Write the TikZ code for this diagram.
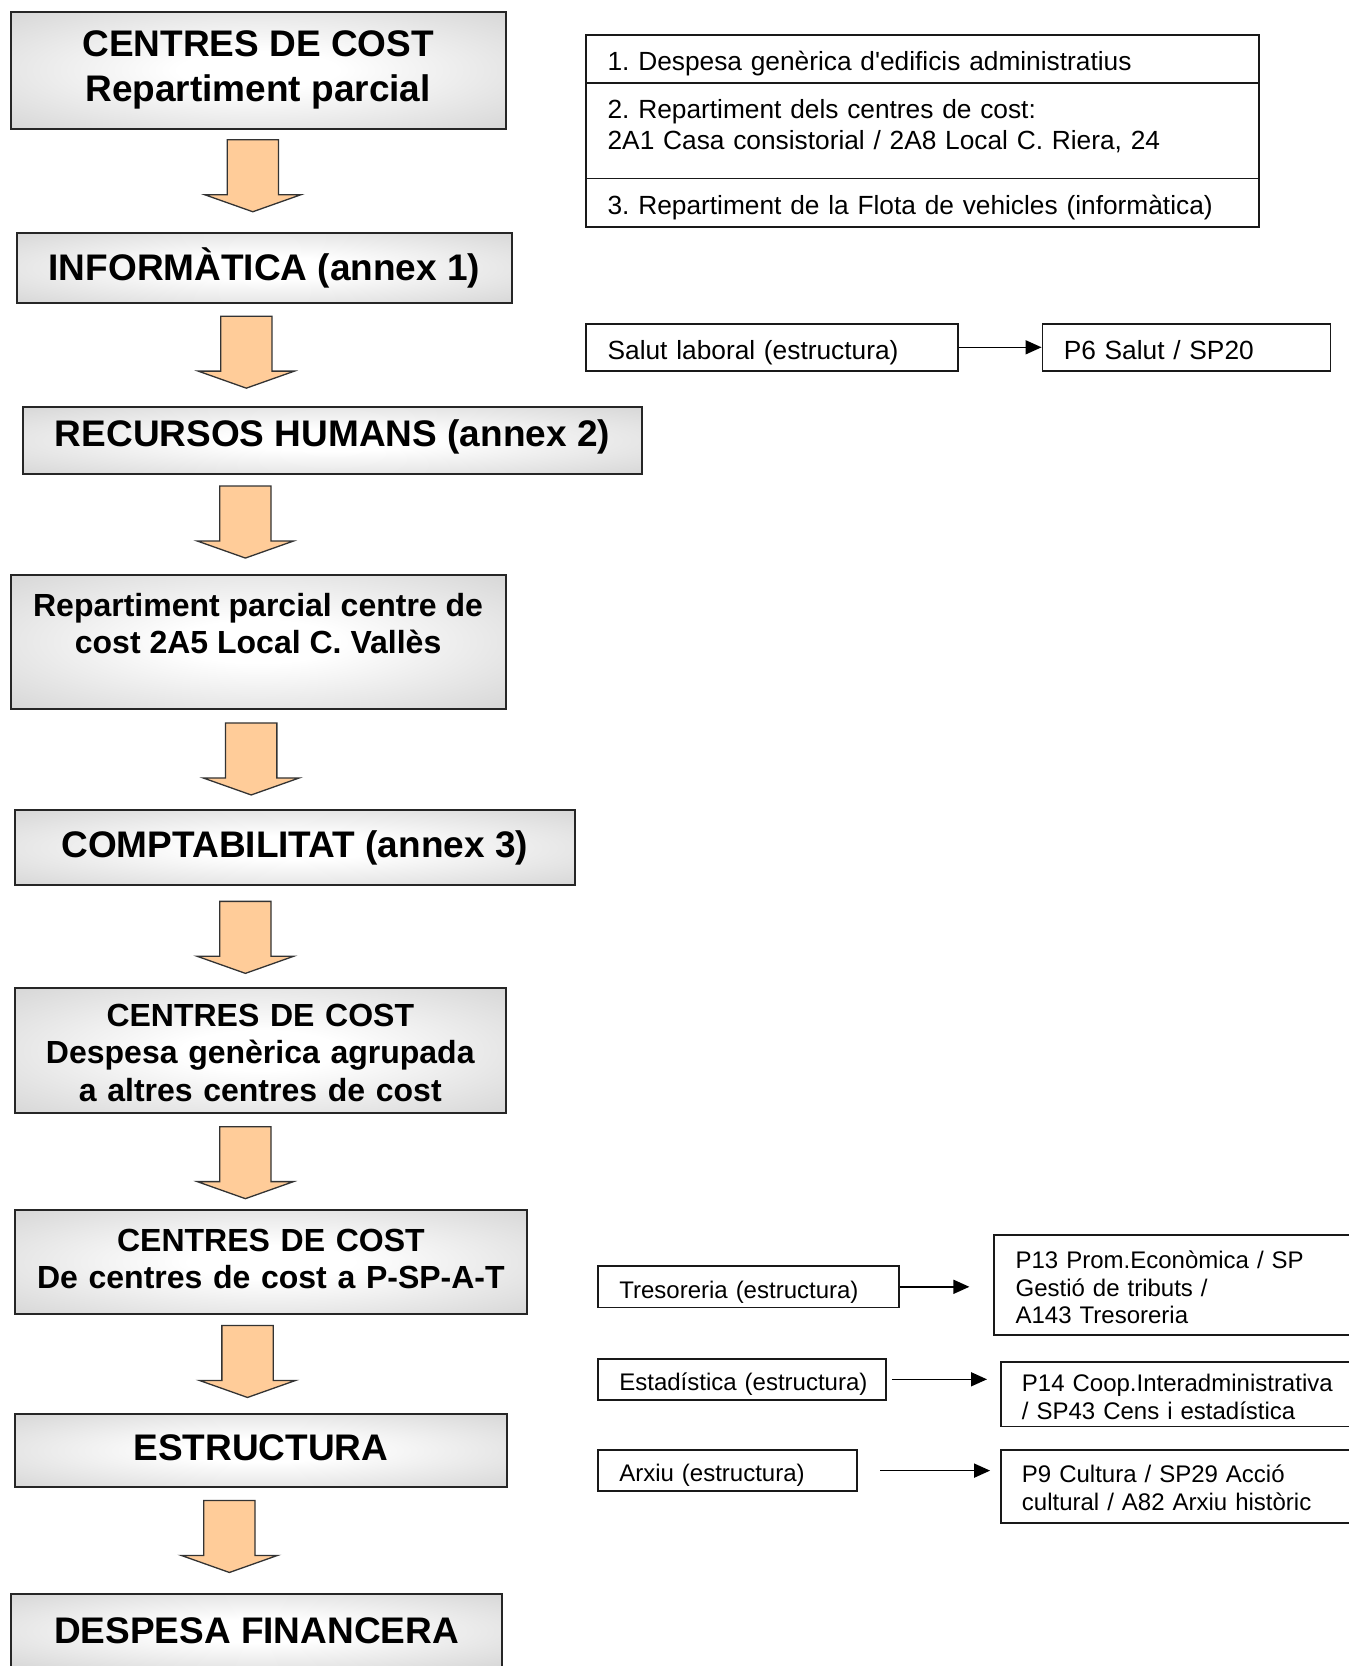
\documentclass[tikz,border=0pt]{standalone}
\usepackage{fontspec}
\setmainfont{Liberation Sans}
\usetikzlibrary{shapes.arrows,arrows.meta}
\definecolor{peach}{RGB}{255,204,153}
\pgfdeclareradialshading{greybox}{\pgfpoint{0bp}{0bp}}{color(0bp)=(white); color(8bp)=(white); color(50bp)=(black!24); color(72bp)=(black!30)}
\begin{document}
\frenchspacing
\begin{tikzpicture}[x=1pt,y=-1pt,
    bigbox/.style={draw=black!85,line width=2pt,shading=greybox,align=center,inner sep=0pt,font=\bfseries\fontsize{37}{44.7}\selectfont},
    midbox/.style={bigbox,font=\bfseries\fontsize{32}{37.2}\selectfont},
    downarr/.style={single arrow,draw=black!80,fill=peach,line width=1.3pt,shape border rotate=270,anchor=tail,inner sep=25pt,minimum height=72pt,single arrow head extend=22.5pt,single arrow tip angle=141},
    cell/.style={draw=black!90,line width=1.8pt,inner xsep=21.3pt,inner ysep=0pt,align=left,font=\fontsize{26.3}{30.8}\selectfont},
    smallcell/.style={cell,font=\fontsize{24}{27.6}\selectfont},
    oneline/.style={text height=26pt,text depth=2.5pt},
    smallline/.style={text height=24pt,text depth=1.4pt},
    conn/.style={line width=1.6pt,-{Triangle[length=16pt,width=14pt]}}]
    \clip (0,0) rectangle (1349,1666);
    \node[bigbox,minimum width=495pt,minimum height=116.8pt] (cc1) at (258.1,70.1) {CENTRES DE COST\\Repartiment parcial};
    \node[downarr] (a1) at (252.8,139.1) {};
    \node[bigbox,minimum width=495pt,minimum height=70.1pt] (inf) at (264.5,267.7) {INFORMÀTICA (annex 1)};
    \node[downarr] (a2) at (246.3,315.5) {};
    \node[bigbox,minimum width=618.2pt,minimum height=66.9pt,text height=30pt,text depth=17.2pt] (rh) at (332.5,440.3) {RECURSOS HUMANS (annex 2)};
    \node[downarr] (a3) at (245.4,485.4) {};
    \node[midbox,minimum width=495pt,minimum height=133.9pt] (cv) at (258.1,641.6) {Repartiment parcial centre de\\cost 2A5 Local C. Vallès\\\mbox{}};
    \node[downarr] (a4) at (251.2,722.3) {};
    \node[bigbox,minimum width=559.8pt,minimum height=74.4pt] (comp) at (294.8,847.6) {COMPTABILITAT (annex 3)};
    \node[downarr] (a5) at (245.4,900.7) {};
    \node[midbox,text width=490.7pt,minimum height=125.3pt,text height=26pt,text depth=73.6pt] (cc2) at (260.3,1050.5) {CENTRES DE COST\\Despesa genèrica agrupada\\a altres centres de cost};
    \node[downarr] (a6) at (245.4,1126) {};
    \node[midbox,text width=512pt,minimum height=104pt,text height=26pt,text depth=47.6pt] (cc3) at (270.9,1261.9) {CENTRES DE COST\\De centres de cost a P-SP-A-T};
    \node[downarr] (a7) at (247.5,1324.8) {};
    \node[bigbox,minimum width=491.8pt,minimum height=73.3pt,text height=30pt,text depth=9.9pt] (est) at (260.8,1450.5) {ESTRUCTURA};
    \node[downarr] (a8) at (229.4,1499.8) {};
    \node[bigbox,minimum width=491.8pt,minimum height=73pt] (fin) at (256.5,1630.9) {DESPESA FINANCERA};

    \node[cell,oneline,text width=629.8pt,minimum height=47.8pt] (d1) at (922.5,59) {1. Despesa genèrica d\textquotesingle edificis administratius};
    \node[cell,text width=629.8pt,minimum height=95.5pt,text height=26pt,text depth=49.5pt] (d2) at (922.5,130.65) {2. Repartiment dels centres de cost:\\2A1 Casa consistorial / 2A8 Local C. Riera, 24};
    \node[cell,oneline,text width=629.8pt,minimum height=48.9pt] (d3) at (922.5,202.85) {3. Repartiment de la Flota de vehicles (informàtica)};

    \node[cell,oneline,text width=329.2pt,minimum height=46.7pt] (sal) at (772.2,347.3) {Salut laboral (estructura)};
    \node[cell,oneline,text width=245.5pt,minimum height=46.7pt] (p6) at (1186.5,347.3) {P6 Salut / SP20};
    \draw[conn] (sal) -- (p6);

    \node[smallcell,smallline,text width=258pt,minimum height=41.4pt] (tres) at (748.3,1286.8) {Tresoreria (estructura)};
    \node[smallcell,text width=323pt,minimum height=99.8pt,text height=24pt,text depth=57.6pt] (p13) at (1177.1,1285.2) {P13 Prom.Econòmica / SP\\Gestió de tributs /\\A143 Tresoreria};
    \node[smallcell,smallline,text width=245.3pt,minimum height=41.4pt] (estad) at (742,1379.3) {\mbox{Estadística (estructura)}};
    \node[smallcell,text width=316.8pt,minimum height=64.8pt,text height=24pt,text depth=29pt] (p14) at (1180.3,1394.1) {P14 Coop.Interadministrativa\\/ SP43 Cens i estadística};
    \node[smallcell,smallline,text width=216.6pt,minimum height=41.4pt] (arx) at (727.6,1470.6) {Arxiu (estructura)};
    \node[smallcell,text width=316.8pt,minimum height=73.3pt,text height=24pt,text depth=31.4pt] (p9) at (1180.3,1486.6) {P9 Cultura / SP29 Acció\\cultural / A82 Arxiu històric};
    \draw[conn,shorten >=24pt] (tres.east) -- (tres.east -| p13.west);
    \draw[conn,shorten <=5pt,shorten >=12.7pt] (estad.east) -- (estad.east -| p14.west);
    \draw[conn,shorten <=22pt,shorten >=9.6pt] (arx.east) -- (arx.east -| p9.west);
\end{tikzpicture}
\end{document}
